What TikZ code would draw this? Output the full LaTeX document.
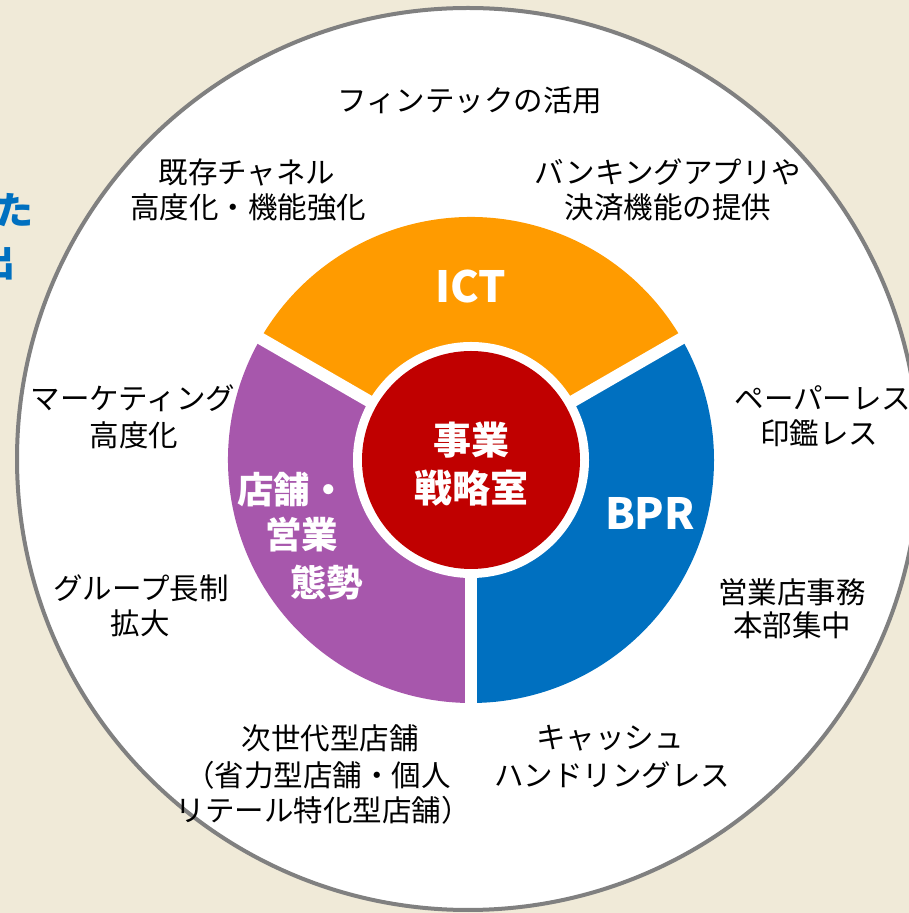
\documentclass[tikz,border=0pt]{standalone}
\usepackage{fontspec}
\setmainfont{Noto Sans CJK JP}
\definecolor{ictorange}{HTML}{FF9B00}
\definecolor{bprblue}{HTML}{0070C0}
\definecolor{shoppurple}{HTML}{A757AC}
\definecolor{corered}{HTML}{C00000}
\definecolor{ringgray}{HTML}{808080}
\definecolor{bgtop}{HTML}{F0EAD8}
\definecolor{bgmid}{HTML}{FAF8F1}
\definecolor{titleblue}{HTML}{0070C0}
\begin{document}
\begin{tikzpicture}[x=1pt,y=1pt,
  lbl/.style={font=\fontsize{29.5}{35}\selectfont, text=black, inner sep=0pt},
  seglbl/.style={font=\fontsize{43}{48}\selectfont\bfseries, text=white, inner sep=0pt},
  corelbl/.style={font=\fontsize{38}{44}\selectfont\bfseries, text=white, inner sep=0pt},
  purplbl/.style={font=\fontsize{36.5}{42}\selectfont\bfseries, text=white, inner sep=0pt, anchor=west},
  cutlbl/.style={font=\fontsize{38}{44}\selectfont\bfseries, text=titleblue, inner sep=0pt, anchor=east}]
\useasboundingbox (0,0) rectangle (909,913);
\clip (0,0) rectangle (909,913);
\shade[top color=bgtop, middle color=bgmid, bottom color=bgtop] (0,0) rectangle (909,913);
% partially visible title text at the left edge
\node[cutlbl] (cutA) at (34,703) {た};
\node[cutlbl] (cutB) at (16,651) {出};
% big white circle
\draw[ringgray, line width=4pt, fill=white] (468,454) circle (451);
% donut
\coordinate (D) at (471,453);
\fill[ictorange] (D) -- ++(30:243) arc[start angle=30, end angle=150, radius=243] -- cycle;
\fill[shoppurple] (D) -- ++(150:243) arc[start angle=150, end angle=270, radius=243] -- cycle;
\fill[bprblue] (D) -- ++(270:243) arc[start angle=270, end angle=390, radius=243] -- cycle;
\foreach \a in {30,150,270} \draw[white, line width=12pt] (D) -- ++(\a:250);
\fill[white] (D) circle (118);
\node[circle, fill=corered, minimum size=218pt, inner sep=0pt] (core) at (D) {};
% segment labels
\node[seglbl] (ict) at (471,626) {ICT};
\node[seglbl] (bpr) at (650,400) {BPR};
\node[corelbl] (core1) at (471,473) {事業};
\node[corelbl] (core2) at (471,425) {戦略室};
\node[purplbl] (shop1) at (237,423) {店舗・};
\node[purplbl] (shop2) at (265,378) {営業};
\node[purplbl] (shop3) at (290,330) {態勢};
% outer labels
\node[lbl] (fin) at (470,813) {フィンテックの活用};
\node[lbl] (ch1) at (247,741) {既存チャネル};
\node[lbl] (ch2) at (248,706) {高度化・機能強化};
\node[lbl] (bk1) at (668,741) {バンキングアプリや};
\node[lbl] (bk2) at (668,706) {決済機能の提供};
\node[lbl] (mk1) at (133,515) {マーケティング};
\node[lbl] (mk2) at (134,478) {高度化};
\node[lbl] (gp1) at (141,325) {グループ長制};
\node[lbl] (gp2) at (140,290) {拡大};
\node[lbl] (pp1) at (823,515) {ペーパーレス};
\node[lbl] (pp2) at (819,480) {印鑑レス};
\node[lbl] (ej1) at (792,321) {営業店事務};
\node[lbl] (ej2) at (792,288) {本部集中};
\node[lbl] (ns1) at (330,175) {次世代型店舗};
\node[lbl] (ns2) at (318,138) {（省力型店舗・個人};
\node[lbl] (ns3) at (323,103) {リテール特化型店舗）};
\node[lbl] (cs1) at (610,175) {キャッシュ};
\node[lbl] (cs2) at (612,138) {ハンドリングレス};
\end{tikzpicture}
\end{document}
